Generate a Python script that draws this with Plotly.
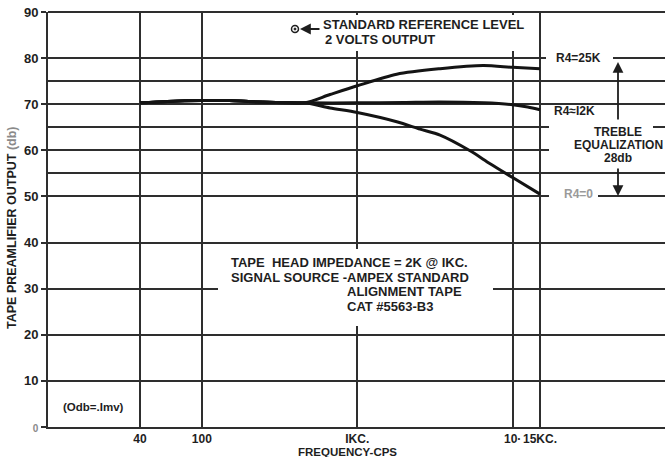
import plotly.graph_objects as go

# ---- data ----
freq_25k = [40, 60, 100, 150, 200, 300, 460, 668, 1000, 1795, 3410, 6470, 10000, 15000]
db_25k = [70.3, 70.6, 70.8, 70.8, 70.6, 70.4, 70.3, 72.1, 74.0, 76.5, 77.7, 78.4, 78.0, 77.7]

freq_12k = [40, 60, 100, 150, 200, 300, 460, 1000, 2000, 3400, 6500, 10000, 12500, 15000]
db_12k = [70.3, 70.6, 70.8, 70.8, 70.6, 70.4, 70.3, 70.3, 70.4, 70.5, 70.3, 69.9, 69.4, 68.8]

freq_0 = [40, 60, 100, 150, 200, 300, 460, 668, 1000, 1795, 2535, 3410, 5320, 7160, 10000, 15000]
db_0 = [70.3, 70.6, 70.8, 70.8, 70.6, 70.4, 70.3, 69.2, 68.2, 66.2, 64.6, 63.3, 59.9, 57.1, 54.1, 50.5]

x_tickvals = [40, 100, 1000, 10000, 15000]
x_ticktext = ["40", "100", "IKC.", "10·", "15KC."]
y_tickvals = [0, 10, 20, 30, 40, 50, 60, 70, 80, 90]
y_ticktext = ["<span style='font-size:10px;color:#8a8a8a'>0</span>",
              "10", "20", "30", "40", "50", "60", "70", "80", "90"]
y_minor_grid = [55, 65, 75]

LINE = "#2e2e2e"
FONT = "Liberation Sans"
W, H = 665, 457
PL, PT, PR, PB = 48, 12, 665, 427          # plot area in window pixels
L, T, R, B = PL, PT, W - PR, H - PB
PW, PH = PR - PL, PB - PT


def px(xp):
    return (xp - PL) / PW


def py(yp):
    return (PB - yp) / PH


fig = go.Figure()
for f, d in [(freq_25k, db_25k), (freq_12k, db_12k), (freq_0, db_0)]:
    fig.add_trace(go.Scatter(x=f, y=d, mode="lines", line=dict(color="#141414", width=3, shape="spline", smoothing=0.8),
                             showlegend=False, hoverinfo="skip"))

fig.update_layout(
    width=W, height=H, margin=dict(l=L, r=R, t=T, b=B, autoexpand=False),
    paper_bgcolor="white", plot_bgcolor="white",
    font=dict(family=FONT, size=13, color="#1e1e1e"),
    showlegend=False,
    xaxis=dict(type="log", range=[1.01, 1.01 + PW / 155.4], tickvals=x_tickvals, ticktext=x_ticktext,
               tickangle=0, automargin=False,
               showgrid=True, gridcolor=LINE, gridwidth=2, showline=True, linecolor=LINE, linewidth=2,
               ticks="", zeroline=False, tickfont=dict(family=FONT, size=12, color="#1e1e1e", weight="bold")),
    yaxis=dict(range=[0, 90], tickvals=y_tickvals, ticktext=y_ticktext, showgrid=True, gridcolor=LINE,
               automargin=False,
               gridwidth=2, showline=True, linecolor=LINE, linewidth=2, ticks="outside", ticklen=5,
               tickwidth=2, tickcolor=LINE, zeroline=False,
               tickfont=dict(family=FONT, size=13, color="#1e1e1e", weight="bold"),
               minor=dict(tickvals=y_minor_grid, showgrid=True, gridcolor=LINE, gridwidth=2)),
)

# top border (the 90 db line)
fig.add_shape(type="line", xref="paper", yref="paper", x0=0, x1=1, y0=1, y1=1,
              line=dict(color=LINE, width=2), layer="below")

# white patches where the original drawing interrupts the grid for lettering
patches = [
    (288, 15, 532, 51),     # top note
    (218, 249, 493, 326),   # middle note
    (546, 50, 613, 67),     # R4=25K
    (549, 117, 653, 131),   # TREBLE
    (549, 139, 666, 156),   # EQUALIZATION
    (549, 187, 598, 201),   # R4=0
]
for x0, y0, x1, y1 in patches:
    fig.add_shape(type="rect", xref="paper", yref="paper", x0=px(x0), x1=px(x1), y0=py(y1), y1=py(y0),
                  fillcolor="white", line=dict(width=0), layer="above")

# reference level circle
fig.add_shape(type="circle", xref="paper", yref="paper", x0=px(291.5), x1=px(298.5), y0=py(32.5), y1=py(25.5),
              line=dict(color="#1e1e1e", width=1.5), fillcolor="white", layer="above")
fig.add_shape(type="circle", xref="paper", yref="paper", x0=px(294), x1=px(296), y0=py(30), y1=py(28),
              line=dict(color="#1e1e1e", width=1), fillcolor="#1e1e1e", layer="above")


def note(text, xp, yp, xanchor="left", size=13, color="#1e1e1e"):
    fig.add_annotation(text=text, xref="paper", yref="paper", x=px(xp), y=py(yp), xanchor=xanchor,
                       yanchor="middle", showarrow=False,
                       font=dict(family=FONT, size=size, color=color, weight="bold"))


note("STANDARD REFERENCE LEVEL", 321, 24)
note("2 VOLTS OUTPUT", 323, 39)
note("TAPE  HEAD IMPEDANCE = 2K @ IKC.", 229, 262)
note("SIGNAL SOURCE -AMPEX STANDARD", 229, 277)
note("ALIGNMENT TAPE", 345, 291)
note("CAT #5563-B3", 345, 306)
note("(Odb=.Imv)", 61, 407, size=11.5)
note("R4=25K", 554, 58, size=12)
note("R4≈I2K", 552, 111, size=12)
note("TREBLE", 618, 132, xanchor="center", size=12)
note("EQUALIZATION", 618, 145, xanchor="center", size=12)
note("28db", 618, 158, xanchor="center", size=12)
note("R4=0", 562, 194, size=12, color="#9a9a9a")
note("FREQUENCY-CPS", 347, 452, xanchor="center", size=11.5)

# y-axis title
fig.add_annotation(text="TAPE PREAMLIFIER OUTPUT <span style='color:#8a8a8a'>(db)</span>", xref="paper",
                   yref="paper", x=px(12), y=py(228), xanchor="center", yanchor="middle", textangle=-90,
                   showarrow=False, font=dict(family=FONT, size=12.5, color="#1e1e1e", weight="bold"))


# arrows
def arrow(hx, hy, tx, ty):
    fig.add_annotation(text="", xref="paper", yref="paper", x=px(hx), y=py(hy), ax=tx - hx, ay=ty - hy,
                       showarrow=True, arrowhead=2, arrowsize=1.2, arrowwidth=1.8, arrowcolor="#1e1e1e")


arrow(300, 29, 321, 29)
arrow(618, 62, 618, 121)
arrow(618, 196, 618, 167)

# the page body has a default 8px margin; remove it so the figure sits at the window corner
fig.write_html("out.html", config={"displayModeBar": False},
               post_script="document.body.style.margin='0px';document.body.style.overflow='hidden';")
